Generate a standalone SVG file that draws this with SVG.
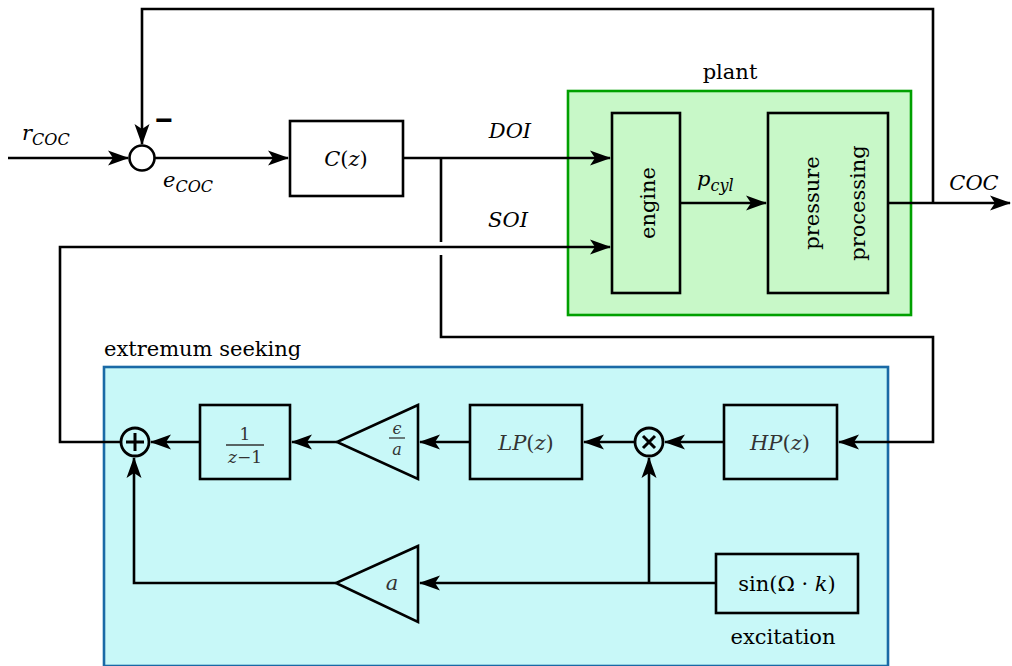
<svg xmlns="http://www.w3.org/2000/svg" width="1012" height="666" viewBox="0 0 1012 666">
<style>
.ln{fill:none;stroke:#000;stroke-width:2.6}
.arr{marker-end:url(#ah)}
.bx{fill:none;stroke:#000;stroke-width:2.6}
.t{font-family:"DejaVu Serif","Liberation Serif",serif;font-size:21px;fill:#000}
.tg{font-family:"DejaVu Serif","Liberation Serif",serif;font-size:21px;fill:#333}
.i{font-style:italic}
.sub{font-size:16px}
.fr{font-size:17px}
.fe{font-size:16px}
</style>
<defs>
<marker id="ah" markerUnits="userSpaceOnUse" markerWidth="22" markerHeight="16" refX="20" refY="7.5" orient="auto" overflow="visible">
<path d="M0,0 L21,7.5 L0,15 L5,7.5 z" fill="#000"/>
</marker>
</defs>
<rect width="1012" height="666" fill="#fff"/>

<g id="plant">
<rect x="568" y="91" width="343" height="224" fill="#c8f8c8" stroke="#00a000" stroke-width="2.6"/>
<text class="t" x="730" y="79" text-anchor="middle">plant</text>
</g>
<g id="extremum-seeking">
<rect x="104" y="367" width="784" height="299" fill="#c8f8f8" stroke="#1a6aa6" stroke-width="2.6"/>
<text class="t" x="104" y="356">extremum seeking</text>
</g>

<g id="connectors">
<path class="ln arr" d="M8,158 H128"/>
<path class="ln arr" d="M933,203 V9 H142 V144"/>
<path class="ln arr" d="M155,158 H288"/>
<path class="ln arr" d="M403,158 H610"/>
<path class="ln" d="M441,158 V242"/>
<path class="ln arr" d="M441,255 V337 H933 V442 H839"/>
<path class="ln arr" d="M121,442 H60 V247 H610"/>
<path class="ln arr" d="M680,203 H766"/>
<path class="ln arr" d="M888,203 H1010"/>
<path class="ln arr" d="M724,442 H665"/>
<path class="ln arr" d="M635,442 H584"/>
<path class="ln arr" d="M470,442 H420"/>
<path class="ln arr" d="M337,442 H292"/>
<path class="ln arr" d="M200,442 H151"/>
<path class="ln arr" d="M716,583 H420"/>
<path class="ln arr" d="M649,583 V458"/>
<path class="ln arr" d="M336,583 H134 V458"/>
</g>

<g id="sum1">
<circle cx="142" cy="158" r="12.5" fill="#fff" stroke="#000" stroke-width="2.6"/>
<text x="164" y="130" text-anchor="middle" font-family="Liberation Sans, sans-serif" font-size="30" font-weight="bold">−</text>
</g>
<g id="r-label"><text class="t" x="22" y="140"><tspan class="i">r</tspan><tspan class="i sub" dy="5">COC</tspan></text></g>
<g id="e-label"><text class="t" x="163" y="187"><tspan class="i">e</tspan><tspan class="i sub" dy="5">COC</tspan></text></g>

<g id="controller">
<rect class="bx" x="290" y="121" width="113" height="75" fill="#fff"/>
<text class="t" x="346" y="166" text-anchor="middle"><tspan class="i">C</tspan>(<tspan class="i">z</tspan>)</text>
</g>
<g id="doi-label"><text class="t i" x="510" y="138" text-anchor="middle">DOI</text></g>
<g id="soi-label"><text class="t i" x="508" y="227" text-anchor="middle">SOI</text></g>

<g id="engine">
<rect class="bx" x="612" y="113" width="68" height="180"/>
<text class="t" transform="translate(655,203) rotate(-90)" text-anchor="middle">engine</text>
</g>
<g id="pcyl-label"><text class="t" x="697" y="186"><tspan class="i">p</tspan><tspan class="i sub" dy="5">cyl</tspan></text></g>
<g id="pressure-processing">
<rect class="bx" x="768" y="113" width="120" height="180"/>
<text class="t" transform="translate(819,203) rotate(-90)" text-anchor="middle">pressure</text>
<text class="t" transform="translate(865,203) rotate(-90)" text-anchor="middle">processing</text>
</g>
<g id="coc-label"><text class="t i" x="974" y="190" text-anchor="middle">COC</text></g>

<g id="sum2">
<circle cx="135" cy="442" r="14" fill="none" stroke="#000" stroke-width="2.8"/>
<path d="M126,442 H144 M135,433 V451" stroke="#000" stroke-width="3"/>
</g>
<g id="integrator">
<rect class="bx" x="200" y="405" width="90" height="74"/>
<text class="tg fr" x="245" y="440" text-anchor="middle">1</text>
<line x1="226" y1="445" x2="264" y2="445" stroke="#333" stroke-width="1.3"/>
<text class="tg fr" x="245" y="463" text-anchor="middle"><tspan class="i">z</tspan>−1</text>
</g>
<g id="gain-eps">
<path class="bx" d="M418,405 L337,442 L418,479 Z"/>
<text class="tg i fe" x="397" y="434" text-anchor="middle">ϵ</text>
<line x1="389" y1="438" x2="405" y2="438" stroke="#333" stroke-width="1.3"/>
<text class="tg i fe" x="397" y="455" text-anchor="middle">a</text>
</g>
<g id="lowpass">
<rect class="bx" x="470" y="405" width="112" height="74"/>
<text class="tg" x="526" y="450" text-anchor="middle"><tspan class="i">LP</tspan>(<tspan class="i">z</tspan>)</text>
</g>
<g id="mult">
<circle cx="649" cy="442" r="14" fill="none" stroke="#000" stroke-width="2.8"/>
<path d="M643,436 L655,448 M655,436 L643,448" stroke="#000" stroke-width="3"/>
</g>
<g id="highpass">
<rect class="bx" x="724" y="405" width="113" height="74"/>
<text class="tg" x="780" y="450" text-anchor="middle"><tspan class="i">HP</tspan>(<tspan class="i">z</tspan>)</text>
</g>
<g id="gain-a">
<path class="bx" d="M418,546 L336,583 L418,622 Z"/>
<text class="tg i" x="392" y="590" text-anchor="middle">a</text>
</g>
<g id="excitation">
<rect class="bx" x="716" y="554" width="142" height="59"/>
<text class="t" x="787" y="591" text-anchor="middle">sin(Ω · <tspan class="i">k</tspan>)</text>
<text class="t" x="783" y="644" text-anchor="middle">excitation</text>
</g>
</svg>
